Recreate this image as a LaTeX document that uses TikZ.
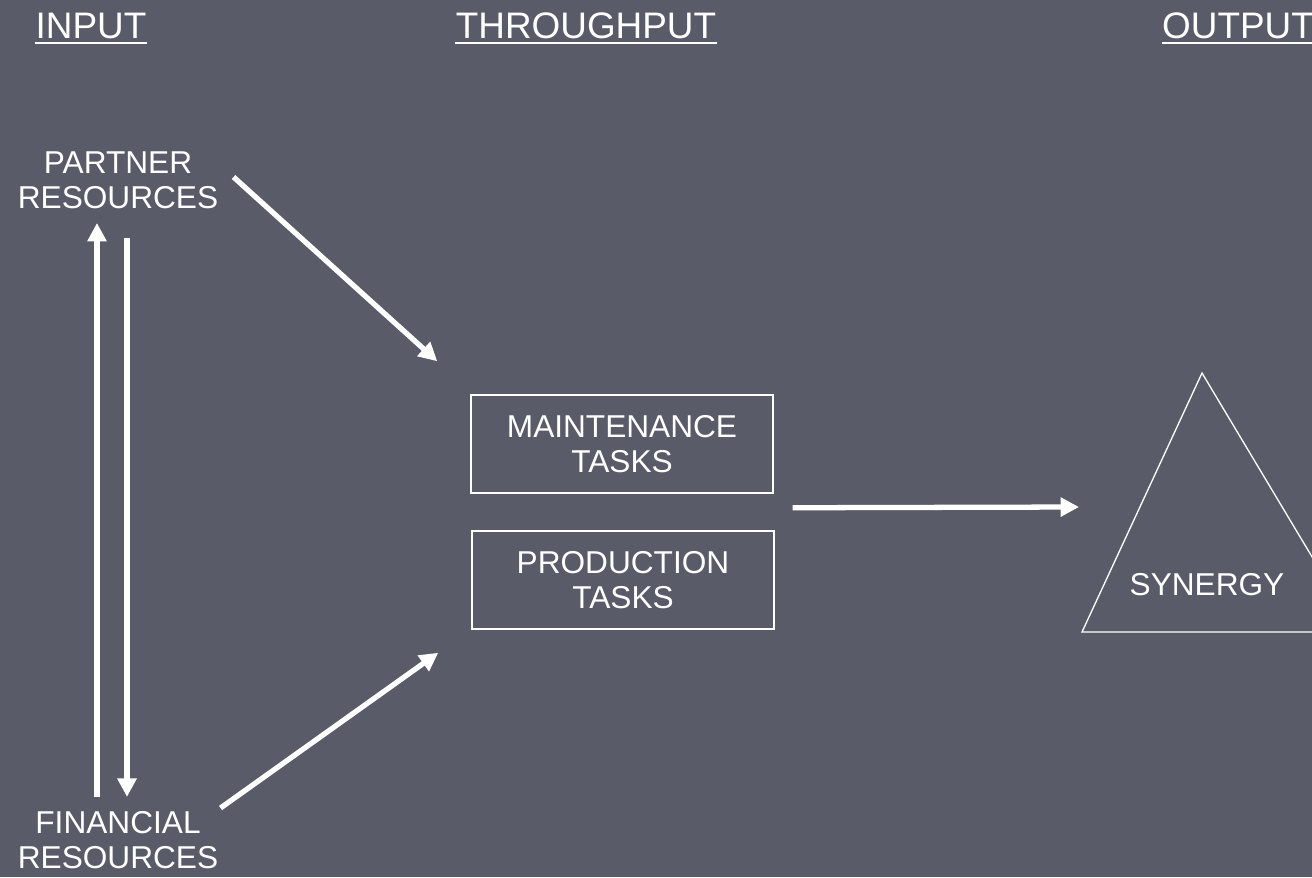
\documentclass[tikz,border=0pt]{standalone}
\usepackage{fontspec}
\setmainfont{Liberation Sans}
\usetikzlibrary{arrows.meta,calc}
\definecolor{slate}{RGB}{89,91,105}
\tikzset{
  head/.style={text=white,font=\fontsize{21}{24}\selectfont,inner sep=0pt,anchor=base},
  lbl/.style={text=white,font=\fontsize{18}{20}\selectfont,align=center,inner sep=0pt},
  task/.style={lbl,draw=white,line width=0.85pt,minimum width=6.04cm,minimum height=1.96cm},
  flow/.style={draw=white,line width=3pt,-{Triangle[length=10.5pt,width=10.5pt]}},
  uline/.style={draw=white,line width=1.4pt}
}
\begin{document}
\begin{tikzpicture}[x=0.02cm,y=-0.02cm]
        \fill[slate](0,0)rectangle(1312,877);
        \useasboundingbox(0,0)rectangle(1312,877);
        \clip(0,0)rectangle(1312,877);
        % column headings
        \node[head](in)at(91,38){INPUT};
        \node[head](th)at(586,38){THROUGHPUT};
        \node[head](out)at(1238,38){OUTPUT};
        \foreach \h in {in,th,out} \draw[uline]($(\h.base west)+(0,5)$)--($(\h.base east)+(0,5)$);
        % inputs
        \node[lbl](pr)at(118,180){PARTNER\\RESOURCES};
        \node[lbl](fr)at(118,840){FINANCIAL\\RESOURCES};
        % throughput
        \node[task](mt)at(622,444){MAINTENANCE\\TASKS};
        \node[task](pd)at(623,580){PRODUCTION\\TASKS};
        % output
        \coordinate(ap)at(1202,373);
        \coordinate(bl)at(1082,632);
        \coordinate(br)at(1357,632);
        \draw[white,line width=0.75pt](ap)--(bl)--(br)--cycle;
        \node[lbl](sy)at(1207,585){SYNERGY};
        \coordinate(syin)at(1079,507);
        % flows
        \draw[flow]($(fr.north)+(-21,-14)$)--($(pr.south)+(-21,14)$);
        \draw[flow]($(pr.south)+(9,29)$)--($(fr.north)+(9,-14)$);
        \draw[flow]($(pr.east)+(15,-3)$)--($(mt.north west)+(-33,-33)$);
        \draw[flow]($(fr.east)+(2,-32)$)--($(pd.south west)+(-33,23)$);
        \draw[flow]($(mt.south east)+(19,14)$)--(syin);
    \end{tikzpicture}
\end{document}
